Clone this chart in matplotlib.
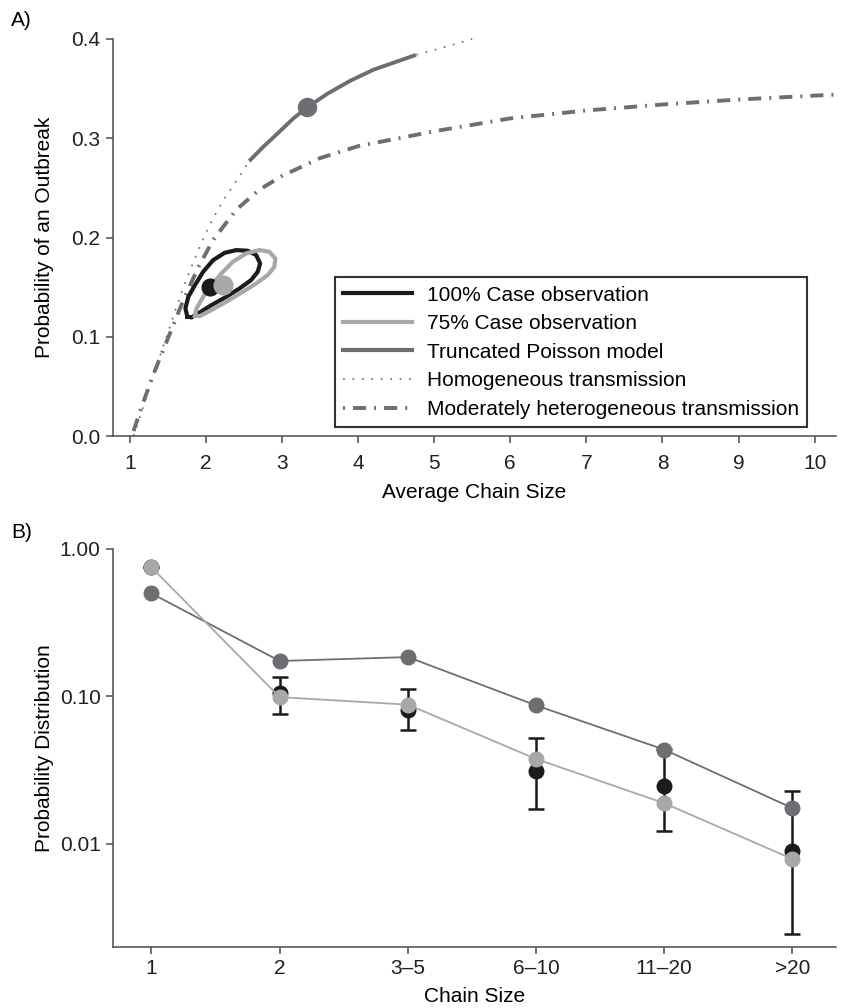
import numpy as np
import matplotlib
matplotlib.use("Agg")
import matplotlib.pyplot as plt
from matplotlib.lines import Line2D

plt.rcParams['font.family'] = ['Liberation Sans', 'DejaVu Sans']
plt.rcParams['lines.scale_dashes'] = False

BLACK = '#1c1a1b'
LIGHT = '#a7a8aa'
DARK = '#6d6e71'
AXC = '#4a4a4a'
FS = 15

# ---- panel A data ----
hom_x = [1.05, 1.18, 1.33, 1.47, 1.6, 1.73, 1.84, 1.96, 2.1, 2.25, 2.42, 2.57,
         2.75, 3.0, 3.15, 3.33, 3.6, 3.9, 4.2, 4.5, 4.76, 5.1, 5.5]
hom_y = [0.0, 0.03, 0.066, 0.097, 0.127, 0.155, 0.176, 0.198, 0.22, 0.24, 0.259, 0.277,
         0.291, 0.309, 0.320, 0.331, 0.345, 0.358, 0.369, 0.377, 0.384, 0.391, 0.400]

tp_x = [2.57, 2.75, 3.0, 3.15, 3.33, 3.6, 3.9, 4.2, 4.5, 4.76]
tp_y = [0.277, 0.291, 0.309, 0.320, 0.331, 0.345, 0.358, 0.369, 0.377, 0.384]
tp_pt = (3.33, 0.331)

het_x = [1.05, 1.15, 1.3, 1.5, 1.7, 1.9, 2.1, 2.4, 2.7, 3.0, 3.5, 4.0, 5.0, 6.0,
         7.0, 8.0, 9.0, 10.0, 10.3]
het_y = [0.005, 0.028, 0.060, 0.098, 0.136, 0.170, 0.198, 0.228, 0.248, 0.262,
         0.280, 0.292, 0.307, 0.320, 0.328, 0.334, 0.339, 0.343, 0.344]

c100_x = [1.757, 1.731, 1.770, 1.857, 1.965, 2.096, 2.248, 2.400, 2.552, 2.661,
          2.713, 2.682, 2.595, 2.443, 2.270, 2.074, 1.900, 1.813, 1.757]
c100_y = [0.1202, 0.1286, 0.1403, 0.1521, 0.1655, 0.1772, 0.1846, 0.1873, 0.1866,
          0.1823, 0.1739, 0.1655, 0.1571, 0.1487, 0.1403, 0.1319, 0.1235, 0.1195, 0.1202]
c75_x = [1.857, 1.878, 1.965, 2.074, 2.204, 2.356, 2.530, 2.704, 2.834, 2.913,
         2.900, 2.813, 2.661, 2.465, 2.270, 2.074, 1.922, 1.857]
c75_y = [0.1212, 0.1286, 0.1403, 0.1521, 0.1638, 0.1756, 0.1840, 0.1873, 0.1856,
         0.1789, 0.1705, 0.1621, 0.1537, 0.1443, 0.1353, 0.1269, 0.1208, 0.1212]
pt100 = (2.06, 0.150)
pt75 = (2.23, 0.152)

# ---- panel B data ----
cats = ['1', '2', '3\u20135', '6\u201310', '11\u201320', '>20']
model_p = [0.50, 0.174, 0.185, 0.087, 0.0436, 0.0175]
obs75_p = [0.75, 0.099, 0.088, 0.0377, 0.0189, 0.0079]
obs100_p = [0.75, 0.106, 0.081, 0.031, 0.0248, 0.0090]
err_lo = [0.75, 0.0762, 0.059, 0.0172, 0.0123, 0.00244]
err_hi = [0.75, 0.136, 0.113, 0.0523, 0.044, 0.0227]

fig = plt.figure(figsize=(8.46, 10.08), dpi=100)
W, H = 846, 1008


def style_axes(ax, xpad):
    for s in ['top', 'right']:
        ax.spines[s].set_visible(False)
    for s in ['left', 'bottom']:
        ax.spines[s].set_color(AXC)
        ax.spines[s].set_linewidth(1.1)
    ax.tick_params(direction='out', length=5, width=1.1, color=AXC,
                   labelsize=FS, labelcolor='#231f20')
    ax.tick_params(axis='x', pad=xpad)
    ax.tick_params(axis='y', pad=4)


# ---------------- panel A ----------------
axA = fig.add_axes([113 / W, 1 - 436 / H, (836 - 113) / W, (436 - 39) / H])
style_axes(axA, 8)
axA.plot(het_x, het_y, color=DARK, lw=2.8, dashes=(9.4, 5.8, 1.4, 5.8), solid_capstyle='butt')
axA.plot(hom_x, hom_y, color=DARK, lw=1.2, dashes=(1.3, 5.5), clip_on=False)
axA.plot(tp_x, tp_y, color=DARK, lw=2.8, solid_capstyle='butt')
axA.plot(*tp_pt, 'o', color=DARK, ms=13, zorder=5)
axA.plot(c100_x, c100_y, color=BLACK, lw=3, zorder=4)
axA.plot(c75_x, c75_y, color=LIGHT, lw=3, zorder=4)
axA.plot(*pt100, 'o', color=BLACK, ms=12, zorder=5)
axA.plot(*pt75, 'o', color=LIGHT, ms=13.5, zorder=6)

axA.set_xlim(0.78, 10.28)
axA.set_ylim(0, 0.4)
axA.set_xticks(range(1, 11))
axA.set_yticks([0.0, 0.1, 0.2, 0.3, 0.4])
axA.set_yticklabels(['0.0', '0.1', '0.2', '0.3', '0.4'])
axA.set_xlabel('Average Chain Size', fontsize=FS)
axA.set_ylabel('Probability of an Outbreak', fontsize=FS)
axA.xaxis.set_label_coords(0.5, -0.118)
axA.yaxis.set_label_coords(-0.082, 0.5)

handles = [
    Line2D([], [], color=BLACK, lw=3),
    Line2D([], [], color=LIGHT, lw=3),
    Line2D([], [], color=DARK, lw=3),
    Line2D([], [], color=DARK, lw=1.2, dashes=(1.3, 5.5)),
    Line2D([], [], color=DARK, lw=2.8, dashes=(1.4, 5.8, 9.4, 5.8)),
]
labels = ['100% Case observation', '75% Case observation', 'Truncated Poisson model',
          'Homogeneous transmission', 'Moderately heterogeneous transmission']
leg = axA.legend(handles, labels, loc='upper left', bbox_to_anchor=(0.307, 0.40),
                 borderaxespad=0, fontsize=FS, frameon=True, fancybox=False,
                 handlelength=3.3, handletextpad=0.7, labelspacing=0.46, borderpad=0.4)
leg.get_frame().set_edgecolor('black')
leg.get_frame().set_linewidth(1.5)

fig.text(11 / W, 1 - 21 / H, 'A)', fontsize=FS, ha='left', va='center')

# ---------------- panel B ----------------
axB = fig.add_axes([113 / W, 1 - 947 / H, (836 - 113) / W, (947 - 549) / H])
style_axes(axB, 4)
axB.set_yscale('log')
xs = np.arange(1, len(cats) + 1)
lo = np.array(obs100_p) - np.array(err_lo)
hi = np.array(err_hi) - np.array(obs100_p)
axB.errorbar(xs, obs100_p, yerr=[lo, hi], fmt='o', color=BLACK, ms=10.5, lw=1.8,
             capsize=6, capthick=1.8, clip_on=False, zorder=3)
axB.plot(xs, model_p, '-o', color=DARK, lw=1.3, ms=10.5, clip_on=False, zorder=4)
axB.plot(xs, obs75_p, '-o', color=LIGHT, lw=1.3, ms=10.5, clip_on=False, zorder=5)

axB.set_xlim(0.70, 6.34)
axB.set_ylim(0.002, 1.0)
axB.set_xticks(xs)
axB.set_xticklabels(cats)
axB.set_yticks([1.0, 0.1, 0.01])
axB.set_yticklabels(['1.00', '0.10', '0.01'])
axB.yaxis.set_minor_locator(matplotlib.ticker.NullLocator())
axB.set_xlabel('Chain Size', fontsize=FS)
axB.set_ylabel('Probability Distribution', fontsize=FS)
axB.xaxis.set_label_coords(0.5, -0.1)
axB.yaxis.set_label_coords(-0.082, 0.5)

fig.text(11 / W, 1 - 532 / H, 'B)', fontsize=FS, ha='left', va='center')

fig.savefig('out.png', dpi=100)
